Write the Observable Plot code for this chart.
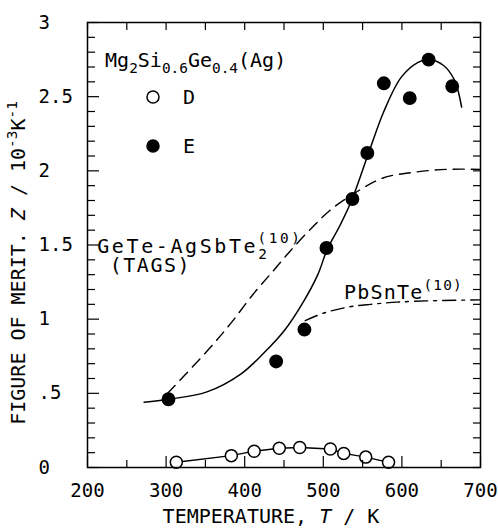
<!DOCTYPE html>
<html><head><meta charset="utf-8">
<script src="https://cdn.jsdelivr.net/npm/d3@7"></script>
<script src="https://cdn.jsdelivr.net/npm/@observablehq/plot@0.6"></script>
<style>html,body{margin:0;padding:0;background:#fff}#chart{position:relative;width:498px;height:531px}#chart svg{display:block}#chart svg.overlay{position:absolute;left:0;top:0;pointer-events:none}</style>
</head><body><div id="chart"></div>
<script>
// ---- data ----
const sampleE_T = [303, 440, 476, 504, 537, 556, 577, 610, 634, 664];
const sampleE_Z = [0.46, 0.715, 0.93, 1.48, 1.81, 2.12, 2.59, 2.49, 2.75, 2.57];
const sampleD_T = [313, 383, 412, 444, 470, 509, 526, 554, 583];
const sampleD_Z = [0.035, 0.08, 0.11, 0.13, 0.135, 0.125, 0.095, 0.07, 0.035];
const fitE_T = [272, 303, 352, 395, 424, 450, 475, 493, 505, 521, 536, 557, 577, 599, 620, 634, 653, 667, 676];
const fitE_Z = [0.44, 0.46, 0.51, 0.63, 0.77, 0.92, 1.12, 1.30, 1.47, 1.63, 1.80, 2.11, 2.40, 2.63, 2.73, 2.75, 2.71, 2.61, 2.43];
const tags_T = [302, 353, 382, 411, 437, 458, 488, 510, 537, 575, 615, 658, 700];
const tags_Z = [0.50, 0.79, 0.97, 1.17, 1.33, 1.46, 1.63, 1.74, 1.84, 1.95, 1.99, 2.01, 2.01];
const pbsnte_T = [477, 500, 530, 560, 594, 645, 700];
const pbsnte_Z = [0.99, 1.04, 1.08, 1.10, 1.115, 1.125, 1.13];

const xMajorTicks = [200, 300, 400, 500, 600, 700];
const xMinorTicks = [250, 350, 450, 550, 650];
const xTickLabels = ["200", "300", "400", "500", "600", "700"];
const yMajorTicks = [0, 0.5, 1, 1.5, 2, 2.5, 3];
const yMinorTicks = [0.1, 0.2, 0.3, 0.4, 0.6, 0.7, 0.8, 0.9, 1.1, 1.2, 1.3, 1.4, 1.6, 1.7, 1.8, 1.9, 2.1, 2.2, 2.3, 2.4, 2.6, 2.7, 2.8, 2.9];
const yTickLabels = ["0", ".5", "1", "1.5", "2", "2.5", "3"];
const legendKeys = ["D", "E"];

// ---- layout ----
const W = 498, H = 531, mL = 87, mR = 18, mT = 22, mB = 64;
const innerW = W - mL - mR, innerH = H - mT - mB;
const font = "DejaVu Sans Mono";
const rows = (T, Z) => T.map((t, i) => ({t, z: Z[i]}));
const base = {
  width: W, height: H,
  marginLeft: mL, marginRight: mR, marginTop: mT, marginBottom: mB,
  x: {domain: [200, 700], axis: null},
  y: {domain: [0, 3], axis: null}
};

const plot = Plot.plot({
  ...base,
  style: {fontFamily: font, fontSize: "19px", background: "#fff", color: "#000"},
  marks: [
    Plot.text(xMajorTicks, {x: d => d, text: (d, i) => xTickLabels[i], frameAnchor: "bottom", dy: 23, lineAnchor: "middle", fill: "#000"}),
    Plot.text(yMajorTicks, {y: d => d, text: (d, i) => yTickLabels[i], frameAnchor: "left", dx: -49, textAnchor: "start", lineAnchor: "middle", fill: "#000"}),
    Plot.line(rows(tags_T, tags_Z), {x: "t", y: "z", curve: "catmull-rom", stroke: "#000", strokeWidth: 1.4, strokeDasharray: "11,7"}),
    Plot.line(rows(pbsnte_T, pbsnte_Z), {x: "t", y: "z", curve: "catmull-rom", stroke: "#000", strokeWidth: 1.4, strokeDasharray: "13,6,3,6"}),
    Plot.line(rows(fitE_T, fitE_Z), {x: "t", y: "z", curve: "catmull-rom", stroke: "#000", strokeWidth: 1.5}),
    Plot.line(rows(sampleD_T, sampleD_Z), {x: "t", y: "z", stroke: "#000", strokeWidth: 1.4}),
    Plot.dot(rows(sampleD_T, sampleD_Z), {x: "t", y: "z", r: 6, fill: "#fff", stroke: "#000", strokeWidth: 1.5}),
    Plot.dot(rows(sampleE_T, sampleE_Z), {x: "t", y: "z", r: 6.2, fill: "#000", stroke: "#000"})
  ]
});

// frame and inward ticks on a second Plot layer with the same scales
const frameLayer = Plot.plot({
  ...base,
  style: {background: "none", color: "#000"},
  marks: [
    Plot.ruleX(xMinorTicks, {x: d => d, insetTop: innerH - 7, stroke: "#000", strokeWidth: 1.2}),
    Plot.ruleX(xMajorTicks, {x: d => d, insetTop: innerH - 11, stroke: "#000", strokeWidth: 1.2}),
    Plot.ruleX(xMajorTicks.concat(xMinorTicks), {x: d => d, insetBottom: innerH - 8, stroke: "#000", strokeWidth: 1.2}),
    Plot.ruleY(yMinorTicks, {y: d => d, insetRight: innerW - 8, stroke: "#000", strokeWidth: 1.2}),
    Plot.ruleY(yMajorTicks, {y: d => d, insetRight: innerW - 12, stroke: "#000", strokeWidth: 1.2}),
    Plot.ruleY(yMajorTicks.concat(yMinorTicks), {y: d => d, insetLeft: innerW - 7, stroke: "#000", strokeWidth: 1.2}),
    Plot.frame({stroke: "#000", strokeWidth: 1.5})
  ]
});
frameLayer.classList.add("overlay");
const chart = document.getElementById("chart");
chart.appendChild(plot);
chart.appendChild(frameLayer);

const sx = plot.scale("x"), sy = plot.scale("y");
const X = v => sx.apply(v), Y = v => sy.apply(v);
const svg = d3.select(plot);

function rich(x, y, parts, o = {}) {
  const size = o.size || 20;
  const t = svg.append("text")
    .attr("x", x).attr("y", y)
    .attr("font-family", font).attr("font-size", size)
    .attr("fill", "#000").attr("letter-spacing", o.ls || 0)
    .attr("text-anchor", o.anchor || "start");
  if (o.transform) t.attr("transform", o.transform);
  let shift = 0;
  for (const p of parts) {
    const [s, k, dx] = p;
    const target = k === "sub" ? (o.sub || 6) : k === "sup" ? -(o.sup || 9) : 0;
    const sp = t.append("tspan").text(s).attr("dy", target - shift);
    if (dx) sp.attr("dx", dx);
    shift = target;
    if (k === "sub" || k === "sup") sp.attr("font-size", size * 0.72);
    if (k === "it") sp.attr("font-style", "italic");
  }
  return t;
}

// annotations
rich(X(223), Y(2.70), [["Mg"], ["2", "sub"], ["Si"], ["0.6", "sub"], ["Ge"], ["0.4", "sub"], ["(Ag)"]], {ls: 0});
rich(X(213), Y(1.443), [["GeTe-AgSbTe"], ["2", "sub"], ["(10)", "sup", -12]], {ls: 2.6, sup: 10});
rich(X(229), Y(1.315), [["(TAGS)"]], {ls: 1.5});
rich(X(527), Y(1.133), [["PbSnTe"], ["(10)", "sup"]], {ls: 1.2});

// legend
const legX = mL + 66, legY = [mT + 75, mT + 124];
legendKeys.forEach((k, i) => {
  svg.append("circle").attr("cx", legX).attr("cy", legY[i]).attr("r", 6)
    .attr("fill", i === 0 ? "#fff" : "#000").attr("stroke", "#000").attr("stroke-width", 1.5);
  svg.append("text").attr("x", legX + 30).attr("y", legY[i] + 7).attr("text-anchor", "start")
    .attr("font-family", font).attr("font-size", 20).attr("fill", "#000").text(k);
});

// axis titles
rich(271, 523, [["TEMPERATURE, "], ["T", "it"], [" / K"]], {anchor: "middle"});
rich(0, 0, [["FIGURE OF MERIT. "], ["Z", "it"], [" / 10"], ["-3", "sup"], ["K"], ["-1", "sup"]], {anchor: "middle", transform: "translate(25,263) rotate(-90)", sup: 8});
</script>
</body></html>
